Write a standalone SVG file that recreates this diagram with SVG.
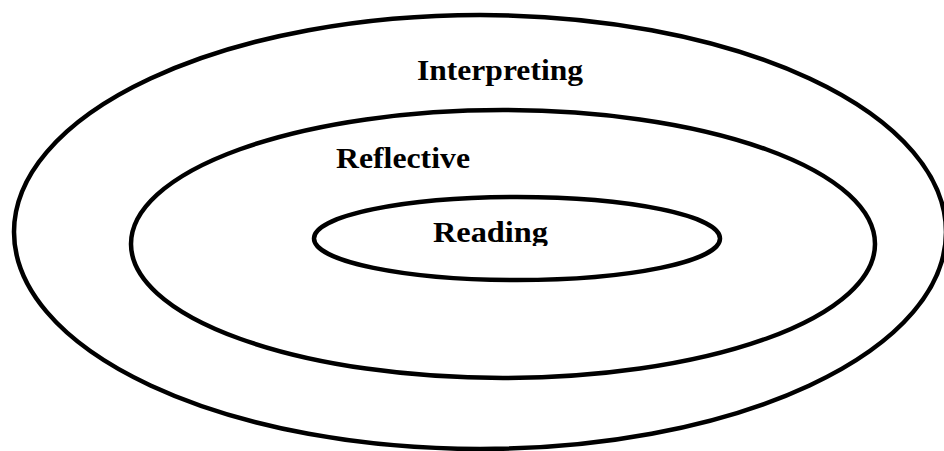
<svg xmlns="http://www.w3.org/2000/svg" width="944" height="451" viewBox="0 0 944 451">
  <style>
    .ring { fill: none; stroke: #000; stroke-width: 4.5; }
    .label { font-family: "Liberation Serif", "Times New Roman", serif; font-weight: bold; font-size: 30px; fill: #000; }
  </style>
  <defs>
    <clipPath id="cut-reading">
      <rect x="0" y="0" width="944" height="246"/>
    </clipPath>
  </defs>
  <rect width="944" height="451" fill="#fff"/>
  <g id="interpreting">
    <ellipse class="ring" cx="480" cy="232" rx="466" ry="217"/>
    <text class="label" x="417" y="80" textLength="166" lengthAdjust="spacingAndGlyphs">Interpreting</text>
  </g>
  <g id="reflective">
    <ellipse class="ring" cx="503" cy="244" rx="372" ry="134"/>
    <text class="label" x="336" y="168" textLength="134" lengthAdjust="spacingAndGlyphs">Reflective</text>
  </g>
  <g id="reading">
    <ellipse class="ring" cx="517" cy="238.5" rx="203" ry="41.5"/>
    <text class="label" x="433" y="242" textLength="115" lengthAdjust="spacingAndGlyphs" clip-path="url(#cut-reading)">Reading</text>
  </g>
</svg>
